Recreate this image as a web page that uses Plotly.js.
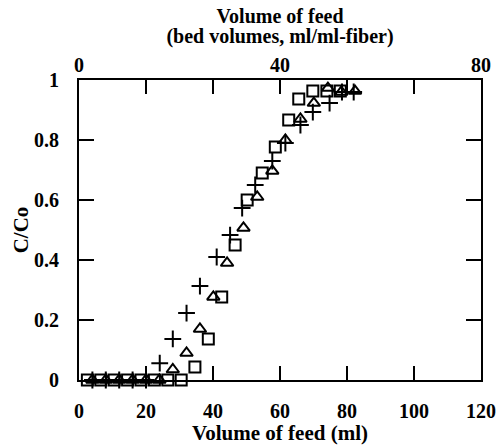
<!DOCTYPE html>
<html>
<head>
<meta charset="utf-8">
<script src="https://cdn.plot.ly/plotly-3.0.1.min.js"></script>
<style>html,body{margin:0;padding:0;background:#fff;}#chart{width:499px;height:445px;}</style>
</head>
<body>
<div id="chart"></div>
<script>
// Series: plus markers
const plusX = [4, 8, 12, 16, 20, 24.1, 28, 32.1, 36.1, 41.1, 45.1, 48.7, 52.6, 57.7, 61.6, 66.1, 69.8, 74.8, 78.5, 82];
const plusY = [0, 0, 0, 0, 0, 0.056, 0.137, 0.223, 0.313, 0.41, 0.483, 0.573, 0.65, 0.73, 0.79, 0.85, 0.893, 0.923, 0.96, 0.96];
// Series: triangle markers
const triX = [4, 8, 12, 16, 20, 24, 28, 32.1, 36.1, 40.1, 44.2, 49.1, 53.2, 57.7, 61.6, 66.1, 70.1, 74.3, 78.3, 82.4];
const triY = [0, 0, 0, 0, 0, 0, 0.035, 0.09, 0.17, 0.277, 0.39, 0.507, 0.61, 0.697, 0.80, 0.87, 0.923, 0.973, 0.96, 0.963];
// Series: square markers
const sqX = [2.5, 6.5, 10.5, 14.5, 18.5, 22.5, 26.5, 30.5, 34.6, 38.6, 42.6, 46.6, 50.2, 54.7, 58.6, 62.6, 65.6, 69.8, 74, 78];
const sqY = [0, 0, 0, 0, 0, 0, 0, 0, 0.043, 0.137, 0.277, 0.45, 0.6, 0.69, 0.777, 0.867, 0.937, 0.963, 0.963, 0.963];
// Axis ticks
const xTicks = [0, 20, 40, 60, 80, 100, 120];
const yTicks = [0, 0.2, 0.4, 0.6, 0.8, 1];
const yTickText = ['0', '0.2', '0.4', '0.6', '0.8', '1'];
const topTicks = [0, 40, 80];

const bold = s => '<b>' + s + '</b>';
const tickFnt = {family: 'Liberation Serif, Times New Roman, serif', size: 20, color: '#000', weight: 'bold'};
const titleFnt = {family: 'Liberation Serif, Times New Roman, serif', size: 21, color: '#000', weight: 'bold'};
const topTitleFnt = {family: 'Liberation Serif, Times New Roman, serif', size: 20, color: '#000', weight: 'bold'};

const traces = [
  {x: plusX, y: plusY, type: 'scatter', mode: 'markers', cliponaxis: false,
   marker: {symbol: 'cross-thin', size: 12, color: '#000', line: {color: '#000', width: 2}}},
  {x: triX, y: triY, type: 'scatter', mode: 'markers', cliponaxis: false,
   marker: {symbol: 'triangle-up-open', size: 11, color: '#000', line: {color: '#000', width: 2}}},
  {x: sqX, y: sqY, type: 'scatter', mode: 'markers', cliponaxis: false,
   marker: {symbol: 'square-open', size: 11, color: '#000', line: {color: '#000', width: 2}}},
  {x: [0, 80], y: [null, null], xaxis: 'x2', yaxis: 'y', type: 'scatter', mode: 'markers', hoverinfo: 'skip', showlegend: false}
];

const layout = {
  width: 499, height: 445,
  margin: {l: 79, r: 18, t: 80, b: 65},
  paper_bgcolor: '#fff', plot_bgcolor: '#fff',
  showlegend: false,
  font: tickFnt,
  title: {text: bold('Volume of feed'), font: topTitleFnt, x: 0.5, xref: 'paper', xanchor: 'center', y: 0.965, yanchor: 'middle', yref: 'container'},
  xaxis: {
    range: [0, 120], tickvals: xTicks, ticktext: xTicks.map(v => bold(String(v))),
    showline: true, linewidth: 2, linecolor: '#000', mirror: 'ticks',
    ticks: 'inside', ticklen: 14, tickwidth: 2, tickcolor: '#000',
    showgrid: false, zeroline: false, tickfont: tickFnt, ticklabelstandoff: 12,
    title: {text: bold('Volume of feed (ml)'), font: titleFnt, standoff: 1}
  },
  xaxis2: {
    overlaying: 'x', side: 'top', range: [0, 80], tickvals: topTicks, ticktext: topTicks.map(v => bold(String(v))),
    showline: false, ticks: '', showgrid: false, zeroline: false, tickfont: tickFnt, ticklabelstandoff: 3,
    title: {text: bold('(bed volumes, ml/ml-fiber)'), font: topTitleFnt, standoff: 5}
  },
  yaxis: {
    range: [0, 1], tickvals: yTicks, ticktext: yTickText.map(bold),
    showline: true, linewidth: 2, linecolor: '#000', mirror: 'ticks',
    ticks: 'inside', ticklen: 15, tickwidth: 2, tickcolor: '#000',
    showgrid: false, zeroline: false, tickfont: tickFnt, ticklabelstandoff: 14,
    title: {text: bold('C/Co'), font: titleFnt, standoff: 0}
  }
};

Plotly.newPlot('chart', traces, layout, {displayModeBar: false, staticPlot: true});
</script>
</body>
</html>
